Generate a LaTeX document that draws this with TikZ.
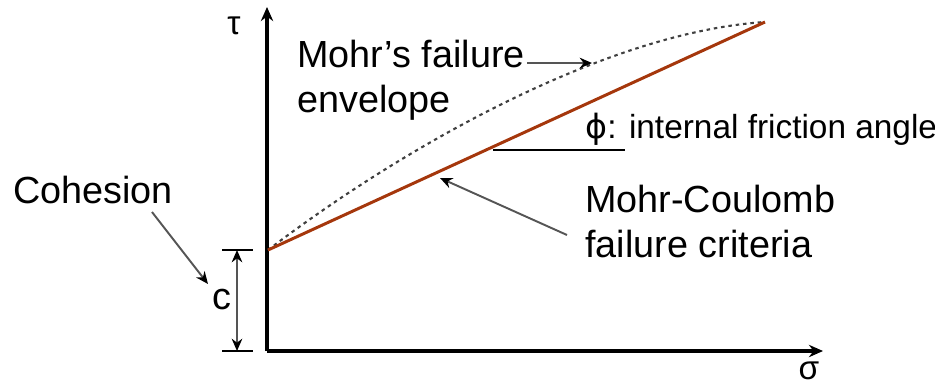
\documentclass[tikz,border=0pt]{standalone}
\usepackage{fontspec}
\setmainfont{Liberation Sans}
\newfontfamily\dejavu{DejaVu Sans}
\usetikzlibrary{arrows.meta,calc}
\definecolor{mcred}{RGB}{165,55,12}
\definecolor{lgray}{RGB}{85,85,85}
\tikzset{
  lbl/.style={inner sep=0pt, font=\fontsize{21.5pt}{25pt}\selectfont, text=black},
  small/.style={inner sep=0pt, font=\fontsize{19pt}{23pt}\selectfont, text=black},
  axisline/.style={line width=1.9pt, black, -{Stealth[length=8pt,width=7pt]}},
  mcline/.style={line width=1.7pt, mcred},
  envline/.style={line width=1.2pt, black!75, dash pattern=on 2pt off 2.2pt},
  pointer/.style={line width=1.1pt, lgray, -{Stealth[length=7pt,width=6pt,black]}},
  dimline/.style={line width=1.1pt, lgray, {Stealth[length=7pt,width=6pt,black]}-{Stealth[length=7pt,width=6pt,black]}},
  tick/.style={line width=1.1pt, black}
}
\begin{document}
\begin{tikzpicture}[x=0.02cm, y=-0.02cm]
\useasboundingbox (0,0) rectangle (935,386);
% axes
\coordinate (O) at (267,351);
\coordinate (Ytop) at (267,7);
\coordinate (Xend) at (823,351);
\draw[axisline] (O) -- (Ytop);
\draw[axisline] (O) -- (Xend);
\node[small] (tau) at (234,26) {τ};
\node[small] (sig) at (809,371) {σ};
% lines
\coordinate (C) at (268,250);
\coordinate (E) at (765,22);
\draw[envline] (C) .. controls (410,142) and (610,32) .. (E);
\draw[mcline] (C) -- (E);
% Mohr's failure envelope
\node[lbl, anchor=base west] (mf1) at (297,67) {Mohr’s failure};
\node[lbl, anchor=base west] (mf2) at (297,112) {envelope};
\coordinate (mfs) at (527,63);
\coordinate (mfe) at (592,63);
\draw[pointer] (mfs) -- (mfe);
% friction angle
\coordinate (phis) at (493,150);
\coordinate (phie) at (625,150);
\draw[line width=1pt, black] (phis) -- (phie);
\node[small, anchor=base west] (phi) at (585,138) {{\dejavu ϕ}: internal friction angle};
% Mohr-Coulomb
\node[lbl, anchor=base west] (mc1) at (585,212) {Mohr-Coulomb};
\node[lbl, anchor=base west] (mc2) at (585,257) {failure criteria};
\coordinate (mcs) at (567,235);
\coordinate (mce) at (440,178);
\draw[pointer] (mcs) -- (mce);
% Cohesion
\node[lbl, anchor=base west] (coh) at (13,203) {Cohesion};
\coordinate (cohs) at (152,212);
\coordinate (cohe) at (208,284);
\draw[pointer] (cohs) -- (cohe);
\node[lbl] (c) at (222,300) {c};
\coordinate (dt) at (237,250);
\coordinate (db) at (237,351);
\draw[tick] ($(dt)+(-15,0)$) -- ($(dt)+(16,0)$);
\draw[tick] ($(db)+(-15,0)$) -- ($(db)+(16,0)$);
\draw[dimline] (dt) -- (db);
\end{tikzpicture}
\end{document}
